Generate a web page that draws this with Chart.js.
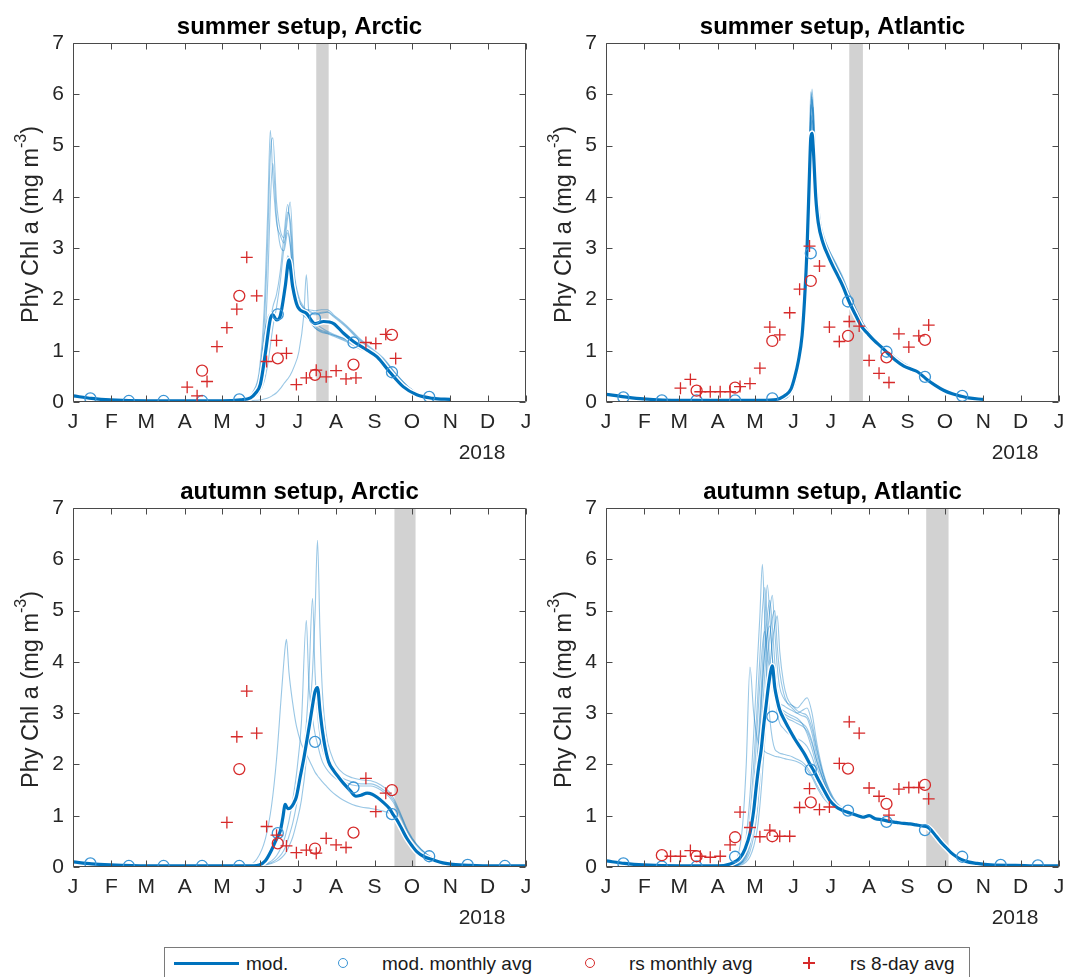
<!DOCTYPE html>
<html>
<head>
<meta charset="utf-8">
<script src="https://cdn.jsdelivr.net/npm/chart.js@4.4.0/dist/chart.umd.min.js"></script>
<style>
  body { margin: 0; background: #fff; width: 1068px; height: 977px; overflow: hidden; position: relative;
         font-family: "Liberation Sans", Arial, Helvetica, sans-serif; }
  .panel { position: absolute; width: 535px; height: 470px; }
  #legend { position: absolute; left: 164px; top: 947px; width: 806px; height: 45px;
            border: 1px solid #7a7a7a; box-sizing: border-box; }
  #legend .t { position: absolute; top: 6px; font-size: 19px; line-height: 20px; color: #1a1a1a; white-space: nowrap; }
  #legend .ln { position: absolute; left: 9px; top: 14px; width: 65px; height: 3px; background: #0072bd; }
  #legend .ci { position: absolute; top: 10px; width: 8px; height: 8px; border-radius: 50%; border: 1.3px solid; }
  #legend .pl { position: absolute; top: 9px; width: 12px; height: 12px; }
  #legend .pl:before { content: ""; position: absolute; left: 0; top: 5.4px; width: 12px; height: 1.3px; background: #d62a2a; }
  #legend .pl:after { content: ""; position: absolute; left: 5.4px; top: 0; width: 1.3px; height: 12px; background: #d62a2a; }
</style>
</head>
<body>
<div class="panel" style="left:0;top:0"><canvas id="tl" width="535" height="470"></canvas></div>
<div class="panel" style="left:533px;top:0"><canvas id="tr" width="535" height="470"></canvas></div>
<div class="panel" style="left:0;top:465px"><canvas id="bl" width="535" height="470"></canvas></div>
<div class="panel" style="left:533px;top:465px"><canvas id="br" width="535" height="470"></canvas></div>

<div id="legend">
  <div class="ln"></div>
  <span class="t" style="left:81px">mod.</span>
  <div class="ci" style="left:173px;border-color:#3b95d5"></div>
  <span class="t" style="left:217px">mod. monthly avg</span>
  <div class="ci" style="left:420px;border-color:#d62a2a"></div>
  <span class="t" style="left:464px">rs monthly avg</span>
  <div class="pl" style="left:638px"></div>
  <span class="t" style="left:685px">rs 8-day avg</span>
</div>

<script>
// axes
const MONTH_STARTS = [0, 31, 59, 90, 120, 151, 181, 212, 243, 273, 304, 334, 365];
const MONTH_LABELS = ['J', 'F', 'M', 'A', 'M', 'J', 'J', 'A', 'S', 'O', 'N', 'D', 'J'];
const Y_TICKS = [0, 1, 2, 3, 4, 5, 6, 7];
const MONTH_MID = [14, 45, 73, 104, 134, 165, 195, 226, 257, 287, 318, 348];

// ---------- summer setup, Arctic ----------
const TL_BAND = [196, 206];
const TL_MOD_DAYS = [0, 15, 30, 60, 90, 120, 135, 143, 147, 151, 155, 159, 161, 164, 167, 171, 174, 177, 181, 188, 195, 202, 210, 218, 226, 237, 245, 255, 266, 277, 290, 304];
const TL_MOD = [0.12, 0.07, 0.04, 0.02, 0.02, 0.02, 0.04, 0.08, 0.17, 0.35, 0.95, 1.62, 1.70, 1.60, 1.68, 2.25, 2.77, 2.25, 1.86, 1.73, 1.53, 1.57, 1.53, 1.34, 1.18, 1.01, 0.88, 0.59, 0.30, 0.14, 0.07, 0.05];
const TL_ENS_DAYS = [0, 30, 60, 90, 120, 140, 145, 150, 154, 157, 159, 161, 164, 167, 170, 173, 175, 178, 182, 186, 188, 190, 195, 200, 205, 210, 220, 230, 240, 250, 260, 270, 280, 290, 304];
const TL_ENS_1 = [0.12,0.04,0.02,0.02,0.02, 0.08,0.20,0.60,1.80,3.80, 5.30,4.40,3.50,3.25,3.10, 3.60,3.90,2.60,2.05,1.85, 1.80,1.78,1.72,1.75,1.76, 1.68,1.48,1.24,1.04,0.84, 0.55,0.30,0.14,0.07,0.04];
const TL_ENS_2 = [0.12,0.04,0.02,0.02,0.02, 0.07,0.16,0.48,1.45,3.20, 4.80,5.15,3.90,3.35,3.20, 3.70,3.55,2.50,2.00,1.82, 1.78,1.75,1.70,1.73,1.75, 1.66,1.46,1.22,1.02,0.82, 0.54,0.29,0.14,0.07,0.04];
const TL_ENS_3 = [0.12,0.04,0.02,0.02,0.02, 0.06,0.13,0.38,1.05,2.40, 3.90,4.65,3.60,3.05,2.95, 3.30,3.05,2.30,1.90,1.75, 1.70,1.66,1.55,1.45,1.38, 1.32,1.22,1.10,0.98,0.78, 0.50,0.27,0.13,0.07,0.04];
const TL_ENS_4 = [0.12,0.04,0.02,0.02,0.02, 0.05,0.10,0.25,0.60,1.10, 1.55,1.85,2.10,2.55,3.25, 3.85,3.40,2.35,1.88,1.72, 1.68,1.62,1.48,1.40,1.36, 1.30,1.20,1.08,0.96,0.76, 0.49,0.27,0.13,0.07,0.04];
const TL_ENS_5 = [0.12,0.04,0.02,0.02,0.02, 0.04,0.08,0.18,0.40,0.75, 1.10,1.45,1.85,2.35,3.00, 3.35,3.10,2.20,1.80,1.68, 1.64,1.60,1.44,1.36,1.33, 1.28,1.18,1.05,0.93,0.74, 0.48,0.26,0.12,0.06,0.04];
const TL_ENS_6 = [0.12,0.04,0.02,0.02,0.02, 0.02,0.03,0.04,0.06,0.08, 0.10,0.13,0.18,0.26,0.36, 0.45,0.52,0.68,0.98,1.70, 2.48,1.75,1.45,1.38,1.34, 1.30,1.22,1.08,0.96,0.80, 0.52,0.28,0.13,0.07,0.04];
const TL_ENS_7 = [0.12,0.04,0.02,0.02,0.02, 0.07,0.18,0.50,1.30,1.65, 1.72,1.68,1.62,1.75,2.20, 2.85,2.70,2.15,1.95,1.82, 1.80,1.80,1.78,1.80,1.80, 1.70,1.50,1.26,1.06,0.86, 0.56,0.30,0.14,0.07,0.04];
const TL_MOD_MONTHLY = [0.07, 0.02, 0.02, 0.02, 0.05, 1.71, 1.63, 1.16, 0.58, 0.10, null, null];
const TL_RS_MONTHLY = [null, null, null, 0.61, 2.07, 0.85, 0.53, 0.73, 1.31, null, null, null];
const TL_RS8_DAYS = [92, 100, 108, 116, 124, 132, 140, 148, 156, 164, 172, 180, 188, 196, 204, 212, 220, 228, 236, 244, 252, 260];
const TL_RS8 = [0.29, 0.12, 0.40, 1.08, 1.45, 1.81, 2.82, 2.07, 0.79, 1.20, 0.95, 0.34, 0.47, 0.62, 0.49, 0.61, 0.45, 0.47, 1.16, 1.14, 1.32, 0.85];

// ---------- summer setup, Atlantic ----------
const TR_BAND = [196, 207];
const TR_MOD_DAYS = [0, 15, 30, 60, 90, 120, 135, 140, 145, 149, 152, 155, 158, 160, 162, 164, 165, 166, 167, 169, 171, 175, 179, 183, 187, 191, 196, 201, 206, 211, 216, 222, 227, 233, 240, 246, 251, 258, 265, 272, 279, 285, 292, 304];
const TR_MOD = [0.15, 0.10, 0.06, 0.03, 0.03, 0.03, 0.04, 0.07, 0.14, 0.25, 0.48, 0.80, 1.30, 2.00, 3.00, 4.50, 5.15, 5.24, 4.95, 4.00, 3.50, 3.09, 2.85, 2.64, 2.45, 2.25, 1.95, 1.70, 1.47, 1.33, 1.20, 1.07, 0.95, 0.82, 0.70, 0.64, 0.59, 0.45, 0.33, 0.23, 0.16, 0.12, 0.08, 0.05];
const TR_ENS_DAYS = [0, 30, 60, 90, 120, 140, 148, 152, 156, 159, 161, 163, 164, 165, 166, 167, 168, 170, 173, 176, 180, 185, 190, 196, 202, 208, 215, 222, 230, 240, 250, 260, 270, 280, 290, 304];
const TR_ENS_1 = [0.15,0.06,0.03,0.03,0.03, 0.05,0.20,0.45,1.00,1.70, 2.60,4.10,5.20,6.05,5.85, 5.40,4.80,3.90,3.35,3.10, 2.88,2.64,2.40,2.05,1.72, 1.45,1.25,1.10,0.92,0.74, 0.61,0.43,0.26,0.15,0.09, 0.05];
const TR_ENS_2 = [0.15,0.06,0.03,0.03,0.03, 0.05,0.17,0.40,0.92,1.55, 2.35,3.70,4.70,5.55,5.90, 5.60,5.05,4.05,3.45,3.15, 2.90,2.66,2.42,2.08,1.75, 1.48,1.27,1.11,0.93,0.75, 0.62,0.44,0.27,0.16,0.09, 0.05];
const TR_ENS_3 = [0.15,0.06,0.03,0.03,0.03, 0.04,0.14,0.34,0.80,1.35, 2.05,3.20,4.20,5.10,5.60, 5.75,5.30,4.20,3.50,3.20, 2.95,2.70,2.45,2.10,1.78, 1.50,1.28,1.12,0.94,0.76, 0.62,0.44,0.27,0.16,0.09, 0.05];
const TR_ENS_4 = [0.15,0.06,0.03,0.03,0.03, 0.05,0.19,0.44,0.98,1.65, 2.50,3.95,4.90,5.60,5.45, 5.10,4.60,3.80,3.28,3.02, 2.80,2.58,2.34,2.00,1.68, 1.42,1.22,1.08,0.90,0.72, 0.60,0.42,0.25,0.15,0.09, 0.05];
const TR_ENS_5 = [0.15,0.06,0.03,0.03,0.03, 0.05,0.16,0.38,0.88,1.50, 2.30,3.60,4.60,5.60,6.10, 5.75,5.10,4.10,3.45,3.18, 2.95,2.72,2.48,2.12,1.78, 1.50,1.28,1.12,0.94,0.75, 0.62,0.44,0.27,0.16,0.09, 0.05];
const TR_ENS_6 = [0.15,0.06,0.03,0.03,0.03, 0.04,0.13,0.32,0.76,1.30, 2.00,3.10,4.10,5.00,5.50, 5.35,4.85,3.95,3.38,3.12, 2.90,2.66,2.42,2.06,1.74, 1.47,1.26,1.10,0.92,0.74, 0.61,0.43,0.26,0.15,0.09, 0.05];
const TR_ENS_7 = [0.15,0.06,0.03,0.03,0.03, 0.05,0.18,0.43,0.95,1.62, 2.45,3.90,4.95,5.80,5.65, 5.25,4.70,3.85,3.30,3.05, 2.82,2.60,2.36,2.02,1.70, 1.44,1.24,1.09,0.91,0.73, 0.60,0.43,0.26,0.15,0.09, 0.05];
const TR_ENS_8 = [0.15,0.06,0.03,0.03,0.03, 0.05,0.17,0.41,0.93,1.58, 2.40,3.80,4.80,5.70,5.95, 5.55,4.95,4.00,3.40,3.14, 2.92,2.68,2.44,2.09,1.76, 1.49,1.27,1.11,0.93,0.75, 0.61,0.44,0.27,0.16,0.09, 0.05];
const TR_MOD_MONTHLY = [0.09, 0.03, 0.03, 0.03, 0.07, 2.90, 1.96, 0.98, 0.49, 0.12, null, null];
const TR_RS_MONTHLY = [null, null, 0.22, 0.28, 1.19, 2.36, 1.29, 0.87, 1.21, null, null, null];
const TR_RS8_DAYS = [60, 68, 76, 84, 92, 100, 108, 116, 124, 132, 140, 148, 156, 164, 172, 180, 188, 196, 204, 212, 220, 228, 236, 244, 252, 260];
const TR_RS8 = [0.27, 0.44, 0.20, 0.20, 0.20, 0.20, 0.30, 0.36, 0.66, 1.46, 1.31, 1.74, 2.20, 3.04, 2.65, 1.46, 1.18, 1.57, 1.48, 0.81, 0.56, 0.38, 1.33, 1.07, 1.29, 1.50];

// ---------- autumn setup, Arctic ----------
const BL_BAND = [259, 276];
const BL_MOD_DAYS = [0, 15, 30, 60, 90, 120, 140, 150, 155, 160, 164, 167, 169, 171, 173, 175, 178, 180, 183, 186, 189, 191, 193, 195, 197, 199, 201, 203, 206, 210, 214, 218, 223, 228, 232, 237, 241, 245, 250, 255, 258, 261, 265, 269, 273, 277, 283, 290, 298, 306, 320, 340, 365];
const BL_MOD = [0.10,0.06,0.04,0.02,0.02, 0.02,0.02,0.04,0.12,0.33, 0.55,0.70,0.95,1.22,1.14, 1.15,1.25,1.37,1.75,2.12, 2.55,2.84,3.15,3.42,3.50, 3.05,2.65,2.35,2.05,1.88, 1.75,1.63,1.50,1.38,1.40, 1.44,1.42,1.36,1.26,1.14, 1.02,0.92,0.74,0.56,0.42, 0.30,0.20,0.14,0.08,0.05, 0.03,0.02,0.02];
const BL_ENS_DAYS = [0, 30, 60, 90, 120, 140, 148, 155, 160, 164, 168, 171, 172, 174, 177, 180, 184, 188, 190, 193, 195, 197, 199, 201, 204, 208, 212, 218, 225, 232, 240, 248, 255, 260, 265, 270, 277, 285, 295, 310, 330, 365];
const BL_ENS_1 = [0.10,0.04,0.02,0.02,0.02, 0.03,0.15,0.55,1.20,2.10, 3.40,4.30,4.44,3.80,3.20, 2.75,2.40,2.20,2.10,1.95, 1.85,1.78,1.72,1.66,1.58, 1.48,1.40,1.30,1.22,1.17, 1.14,1.10,1.05,0.95,0.78, 0.58,0.38,0.21,0.11,0.05, 0.03,0.02];
const BL_ENS_2 = [0.10,0.04,0.02,0.02,0.02, 0.02,0.03,0.06,0.12,0.22, 0.40,0.60,0.70,0.90,1.30, 1.80,2.80,4.81,3.60,2.90, 2.60,2.40,2.20,2.05,1.92, 1.80,1.72,1.66,1.60,1.58, 1.58,1.50,1.36,1.18,0.92, 0.66,0.42,0.24,0.12,0.05, 0.03,0.02];
const BL_ENS_3 = [0.10,0.04,0.02,0.02,0.02, 0.02,0.03,0.05,0.09,0.15, 0.25,0.38,0.45,0.60,0.85, 1.20,1.80,2.80,3.60,5.24, 3.80,3.00,2.55,2.30,2.10, 1.92,1.82,1.72,1.66,1.62, 1.62,1.54,1.40,1.22,0.96, 0.68,0.43,0.25,0.12,0.05, 0.03,0.02];
const BL_ENS_4 = [0.10,0.04,0.02,0.02,0.02, 0.02,0.02,0.04,0.07,0.11, 0.18,0.26,0.30,0.40,0.58, 0.85,1.30,2.10,2.80,3.80, 4.90,6.37,4.60,3.40,2.60, 2.20,1.98,1.82,1.74,1.70, 1.68,1.60,1.46,1.26,0.98, 0.70,0.44,0.25,0.12,0.05, 0.03,0.02];
const BL_MOD_MONTHLY = [0.07, 0.02, 0.02, 0.02, 0.02, 0.66, 2.44, 1.55, 1.03, 0.21, 0.04, 0.02];
const BL_RS_MONTHLY = [null, null, null, null, 1.91, 0.46, 0.36, 0.67, 1.50, null, null, null];
const BL_RS8_DAYS = [124, 132, 140, 148, 156, 164, 172, 180, 188, 196, 204, 212, 220, 236, 244, 252];
const BL_RS8 = [0.87, 2.54, 3.43, 2.61, 0.79, 0.62, 0.41, 0.28, 0.33, 0.27, 0.56, 0.43, 0.38, 1.73, 1.08, 1.44];

// ---------- autumn setup, Atlantic ----------
const BR_BAND = [258, 276];
const BR_MOD_DAYS = [0, 15, 30, 60, 90, 100, 105, 108, 112, 116, 119, 121, 123, 125, 127, 129, 131, 133, 134, 136, 138, 140, 144, 148, 152, 156, 160, 164, 168, 172, 176, 180, 185, 191, 197, 203, 207, 212, 217, 223, 228, 234, 240, 245, 250, 255, 259, 262, 266, 270, 274, 278, 283, 290, 299, 310, 330, 350, 365];
const BR_MOD = [0.12,0.07,0.04,0.02,0.02, 0.06,0.12,0.18,0.35,0.66, 1.10,1.55,1.95,2.28,2.75, 3.15,3.55,3.85,3.92,3.50, 3.25,3.06,2.85,2.67,2.50, 2.35,2.20,2.02,1.85,1.66, 1.48,1.31,1.18,1.10,1.05, 1.00,0.97,1.00,0.94,0.92, 0.89,0.87,0.85,0.84,0.82, 0.80,0.78,0.72,0.60,0.48, 0.38,0.28,0.19,0.11,0.07, 0.04,0.03,0.02,0.02];
const BR_ENS_DAYS = [0, 30, 60, 90, 100, 106, 110, 113, 116, 119, 122, 124, 126, 128, 130, 132, 134, 136, 138, 140, 143, 146, 150, 154, 158, 162, 166, 170, 175, 180, 186, 192, 200, 210, 225, 240, 255, 262, 270, 280, 292, 310, 340, 365];
const BR_ENS_1 = [0.12,0.04,0.02,0.02,0.05, 0.20,0.80,2.00,3.90,3.00, 2.50,2.35,2.30,2.25,2.22, 2.20,2.18,2.16,2.15,2.14, 2.12,2.10,2.08,2.05,2.00, 1.90,1.75,1.55,1.35,1.22, 1.12,1.08,1.03,0.98,0.91, 0.85,0.80,0.72,0.48,0.27, 0.12,0.05,0.03,0.02];
const BR_ENS_2 = [0.12,0.04,0.02,0.02,0.03, 0.08,0.25,0.60,1.40,2.60, 4.00,4.90,5.90,4.80,4.20, 3.80,3.50,3.30,3.20,3.10, 3.05,3.00,2.95,2.90,2.80, 2.60,2.30,1.95,1.60,1.35, 1.18,1.10,1.04,0.99,0.91, 0.85,0.80,0.72,0.48,0.27, 0.12,0.05,0.03,0.02];
const BR_ENS_3 = [0.12,0.04,0.02,0.02,0.02, 0.05,0.12,0.28,0.60,1.20, 2.20,3.00,3.90,4.80,5.50, 4.90,4.10,3.60,3.35,3.20, 3.15,3.10,3.05,3.00,3.05, 3.10,2.80,2.30,1.80,1.45, 1.22,1.12,1.05,0.99,0.91, 0.85,0.80,0.72,0.48,0.27, 0.12,0.05,0.03,0.02];
const BR_ENS_4 = [0.12,0.04,0.02,0.02,0.02, 0.04,0.09,0.18,0.40,0.80, 1.50,2.20,3.00,3.80,4.50, 5.00,5.30,4.60,3.90,3.50, 3.30,3.20,3.15,3.10,3.20, 3.30,3.00,2.40,1.85,1.50, 1.25,1.13,1.06,1.00,0.91, 0.85,0.80,0.72,0.48,0.27, 0.12,0.05,0.03,0.02];
const BR_ENS_5 = [0.12,0.04,0.02,0.02,0.02, 0.04,0.10,0.22,0.48,1.00, 1.80,2.60,3.50,4.30,4.90, 5.20,4.70,4.00,3.50,3.20, 3.00,2.90,2.85,2.80,2.75, 2.65,2.40,2.05,1.70,1.42, 1.20,1.11,1.04,0.99,0.91, 0.85,0.80,0.72,0.48,0.27, 0.12,0.05,0.03,0.02];
const BR_ENS_6 = [0.12,0.04,0.02,0.02,0.02, 0.03,0.07,0.14,0.30,0.60, 1.10,1.70,2.40,3.20,4.00, 4.50,4.85,5.00,4.30,3.80, 3.40,3.20,3.10,3.00,2.95, 2.90,2.60,2.15,1.72,1.43, 1.21,1.11,1.04,0.99,0.91, 0.85,0.80,0.72,0.48,0.27, 0.12,0.05,0.03,0.02];
const BR_ENS_7 = [0.12,0.04,0.02,0.02,0.02, 0.05,0.15,0.35,0.80,1.60, 2.80,3.60,4.30,4.60,3.60, 2.90,2.50,2.30,2.25,2.22, 2.20,2.18,2.15,2.10,2.05, 1.95,1.80,1.60,1.40,1.25, 1.14,1.09,1.03,0.98,0.91, 0.85,0.80,0.72,0.48,0.27, 0.12,0.05,0.03,0.02];
const BR_ENS_8 = [0.12,0.04,0.02,0.02,0.02, 0.03,0.05,0.10,0.20,0.40, 0.75,1.20,1.80,2.50,3.20, 3.90,4.40,4.70,4.90,4.20, 3.60,3.30,3.15,3.05,3.00, 2.95,2.70,2.25,1.80,1.48, 1.23,1.12,1.05,0.99,0.91, 0.85,0.80,0.72,0.48,0.27, 0.12,0.05,0.03,0.02];
const BR_ENS_9 = [0.12,0.04,0.02,0.02,0.02, 0.06,0.18,0.45,1.00,2.00, 3.20,4.10,5.00,5.45,4.70, 4.00,3.60,3.35,3.20,3.10, 3.00,2.95,2.90,2.85,2.80, 2.70,2.45,2.05,1.68,1.40, 1.19,1.10,1.04,0.99,0.91, 0.85,0.80,0.72,0.48,0.27, 0.12,0.05,0.03,0.02];
const BR_ENS_10 = [0.12,0.04,0.02,0.02,0.02, 0.04,0.11,0.25,0.55,1.10, 2.00,2.80,3.60,4.20,4.55, 4.70,4.10,3.40,3.00,2.80, 2.70,2.62,2.55,2.50,2.45, 2.35,2.15,1.85,1.55,1.33, 1.16,1.09,1.03,0.98,0.91, 0.85,0.80,0.72,0.48,0.27, 0.12,0.05,0.03,0.02];
const BR_MOD_MONTHLY = [0.07, 0.01, 0.01, 0.20, 2.93, 1.90, 1.10, 0.88, 0.72, 0.20, 0.04, 0.03];
const BR_RS_MONTHLY = [null, 0.23, 0.21, 0.58, 0.60, 1.26, 1.92, 1.23, 1.60, null, null, null];
const BR_RS8_DAYS = [52, 60, 68, 76, 84, 92, 100, 108, 116, 124, 132, 140, 148, 156, 164, 172, 180, 188, 196, 204, 212, 220, 228, 236, 244, 252, 260];
const BR_RS8 = [0.21, 0.21, 0.32, 0.21, 0.19, 0.21, 0.43, 1.07, 0.77, 0.59, 0.72, 0.60, 0.60, 1.16, 1.53, 1.12, 1.17, 2.02, 2.83, 2.61, 1.54, 1.38, 1.01, 1.52, 1.55, 1.55, 1.33];

// styles
const FONT = '"Liberation Sans", Arial, Helvetica, sans-serif';
const BLUE = '#0072bd';
const THIN = 'rgba(0,114,189,0.4)';
const CIRC_BLUE = '#3b95d5';
const RED = '#d62a2a';
const TEXT = '#262626';

function pts(xs, ys) {
  return xs.map((x, i) => ({x: x, y: ys[i]}));
}

// gray band, box with inside ticks, title, y label, year
const decor = {
  id: 'decor',
  beforeDatasetsDraw(chart, args, o) {
    const a = chart.chartArea, ctx = chart.ctx, x = chart.scales.x;
    const x0 = x.getPixelForValue(o.band[0]), x1 = x.getPixelForValue(o.band[1]);
    ctx.save();
    ctx.fillStyle = '#d2d2d2';
    ctx.fillRect(x0, a.top, x1 - x0, a.bottom - a.top);
    ctx.restore();
  },
  afterDatasetsDraw(chart, args, o) {
    const a = chart.chartArea, ctx = chart.ctx, x = chart.scales.x, y = chart.scales.y;
    const L = Math.round(a.left) + 0.5, R = Math.round(a.right) - 0.5;
    const T = Math.round(a.top) + 0.5, B = Math.round(a.bottom) - 0.5;
    ctx.save();
    ctx.strokeStyle = '#4a4a4a';
    ctx.lineWidth = 1;
    ctx.beginPath();
    ctx.rect(L, T, R - L, B - T);
    MONTH_STARTS.forEach(d => {
      const px = Math.round(x.getPixelForValue(d)) + 0.5;
      ctx.moveTo(px, B); ctx.lineTo(px, B - 6);
      ctx.moveTo(px, T); ctx.lineTo(px, T + 6);
    });
    Y_TICKS.forEach(v => {
      const py = Math.round(y.getPixelForValue(v)) + 0.5;
      ctx.moveTo(L, py); ctx.lineTo(L + 6, py);
      ctx.moveTo(R, py); ctx.lineTo(R - 6, py);
    });
    ctx.stroke();
    ctx.restore();
  },
  afterDraw(chart, args, o) {
    const a = chart.chartArea, ctx = chart.ctx;
    ctx.save();
    // title
    ctx.fillStyle = '#000';
    ctx.font = 'bold 24px ' + FONT;
    ctx.textAlign = 'center';
    ctx.textBaseline = 'alphabetic';
    ctx.fillText(o.title, (a.left + a.right) / 2, a.top - 9);
    // year
    ctx.fillStyle = TEXT;
    ctx.font = '21px ' + FONT;
    ctx.fillText('2018', a.right - 44, a.bottom + 57);
    // y label with superscript
    const main = 'Phy Chl a (mg m', sup = '-3', close = ')';
    ctx.font = '23.5px ' + FONT;
    const wMain = ctx.measureText(main).width, wClose = ctx.measureText(close).width;
    ctx.font = '16px ' + FONT;
    const wSup = ctx.measureText(sup).width;
    const start = -(wMain + wSup + wClose) / 2;
    ctx.translate(a.left - 41, (a.top + a.bottom) / 2 + 2);
    ctx.rotate(-Math.PI / 2);
    ctx.textAlign = 'left';
    ctx.textBaseline = 'middle';
    ctx.font = '23.5px ' + FONT;
    ctx.fillText(main, start, 0);
    ctx.font = '16px ' + FONT;
    ctx.fillText(sup, start + wMain, -10);
    ctx.font = '23.5px ' + FONT;
    ctx.fillText(close, start + wMain + wSup, 0);
    ctx.restore();
  }
};

function makePanel(id, p) {
  const datasets = [
    {label: 'rs 8-day avg', data: pts(p.rs8Days, p.rs8), showLine: false, order: 0,
     pointStyle: 'cross', pointRadius: 6, borderColor: RED, pointBorderColor: RED, pointBorderWidth: 1.3},
    {label: 'rs monthly avg', data: pts(MONTH_MID, p.rsMonthly), showLine: false, order: 1,
     pointStyle: 'circle', pointRadius: 5.5, borderColor: RED, pointBorderColor: RED,
     pointBackgroundColor: 'rgba(0,0,0,0)', pointBorderWidth: 1.3},
    {label: 'mod. monthly avg', data: pts(MONTH_MID, p.modMonthly), showLine: false, order: 2,
     pointStyle: 'circle', pointRadius: 5.5, borderColor: CIRC_BLUE, pointBorderColor: CIRC_BLUE,
     pointBackgroundColor: 'rgba(0,0,0,0)', pointBorderWidth: 1.3},
    {label: 'mod.', data: pts(p.modDays, p.mod), order: 3, borderColor: BLUE, borderWidth: 3.2,
     pointRadius: 0, cubicInterpolationMode: 'monotone'},
    {label: 'halo', data: pts(p.modDays, p.mod), order: 4, borderColor: '#ffffff', borderWidth: 6,
     pointRadius: 0, cubicInterpolationMode: 'monotone'}
  ];
  p.ens.forEach(m => {
    datasets.push({label: 'ens', data: pts(p.ensDays, m), order: 5, borderColor: THIN, borderWidth: 1.1,
                   pointRadius: 0, cubicInterpolationMode: 'monotone'});
  });

  new Chart(document.getElementById(id), {
    type: 'line',
    data: {datasets: datasets},
    options: {
      responsive: false,
      animation: false,
      events: [],
      layout: {padding: {top: 43, right: 9, left: 0, bottom: 0}},
      plugins: {legend: {display: false}, tooltip: {enabled: false}, decor: p},
      scales: {
        x: {
          type: 'linear', min: 0, max: 365,
          afterBuildTicks: s => { s.ticks = MONTH_STARTS.map(v => ({value: v})); },
          afterFit: s => { s.height = 68; s.paddingLeft = 0; s.paddingRight = 0; },
          ticks: {autoSkip: false, maxRotation: 0, minRotation: 0, padding: 8, color: TEXT,
                  font: {size: 21, family: FONT},
                  callback: v => MONTH_LABELS[MONTH_STARTS.indexOf(v)]},
          grid: {drawOnChartArea: false, drawTicks: false},
          border: {display: false}
        },
        y: {
          min: 0, max: 7,
          afterBuildTicks: s => { s.ticks = Y_TICKS.map(v => ({value: v})); },
          afterFit: s => { s.width = 73; s.paddingTop = 0; s.paddingBottom = 0; },
          ticks: {padding: 9, color: TEXT, font: {size: 21, family: FONT}, callback: v => String(v)},
          grid: {drawOnChartArea: false, drawTicks: false},
          border: {display: false}
        }
      }
    },
    plugins: [decor]
  });
}

makePanel('tl', {title: 'summer setup, Arctic', band: TL_BAND, modDays: TL_MOD_DAYS, mod: TL_MOD,
  ensDays: TL_ENS_DAYS, ens: [TL_ENS_1, TL_ENS_2, TL_ENS_3, TL_ENS_4, TL_ENS_5, TL_ENS_6, TL_ENS_7],
  modMonthly: TL_MOD_MONTHLY, rsMonthly: TL_RS_MONTHLY, rs8Days: TL_RS8_DAYS, rs8: TL_RS8});
makePanel('tr', {title: 'summer setup, Atlantic', band: TR_BAND, modDays: TR_MOD_DAYS, mod: TR_MOD,
  ensDays: TR_ENS_DAYS, ens: [TR_ENS_1, TR_ENS_2, TR_ENS_3, TR_ENS_4, TR_ENS_5, TR_ENS_6, TR_ENS_7, TR_ENS_8],
  modMonthly: TR_MOD_MONTHLY, rsMonthly: TR_RS_MONTHLY, rs8Days: TR_RS8_DAYS, rs8: TR_RS8});
makePanel('bl', {title: 'autumn setup, Arctic', band: BL_BAND, modDays: BL_MOD_DAYS, mod: BL_MOD,
  ensDays: BL_ENS_DAYS, ens: [BL_ENS_1, BL_ENS_2, BL_ENS_3, BL_ENS_4],
  modMonthly: BL_MOD_MONTHLY, rsMonthly: BL_RS_MONTHLY, rs8Days: BL_RS8_DAYS, rs8: BL_RS8});
makePanel('br', {title: 'autumn setup, Atlantic', band: BR_BAND, modDays: BR_MOD_DAYS, mod: BR_MOD,
  ensDays: BR_ENS_DAYS, ens: [BR_ENS_1, BR_ENS_2, BR_ENS_3, BR_ENS_4, BR_ENS_5, BR_ENS_6, BR_ENS_7, BR_ENS_8, BR_ENS_9, BR_ENS_10],
  modMonthly: BR_MOD_MONTHLY, rsMonthly: BR_RS_MONTHLY, rs8Days: BR_RS8_DAYS, rs8: BR_RS8});
</script>
</body>
</html>
